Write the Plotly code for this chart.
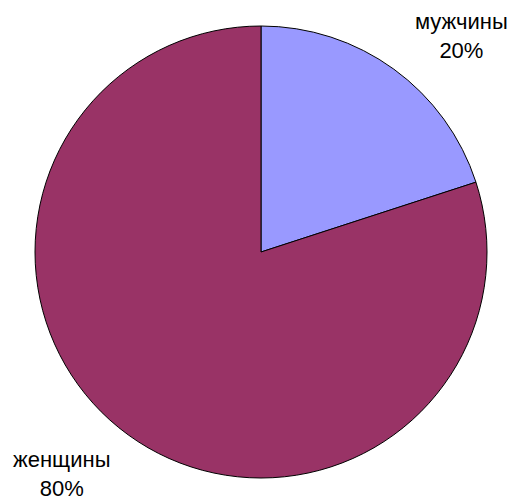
import plotly.graph_objects as go

labels = ["мужчины", "женщины"]
values = [20, 80]
colors = ["#9999FF", "#993366"]

W, H = 515, 501
# page body adds an 8px offset, so positions are shifted by it
cx, cy, r = 253, 244, 226

fig = go.Figure(go.Pie(
    labels=labels, values=values, sort=False, direction="clockwise", rotation=0,
    marker=dict(colors=colors, line=dict(color="black", width=1)),
    textinfo="none", hoverinfo="label+percent",
    domain=dict(x=[(cx - r) / W, (cx + r) / W], y=[1 - (cy + r) / H, 1 - (cy - r) / H]),
))

total = sum(values)
label_pos = [(453, 28), (53, 466)]
for lab, v, (x, y) in zip(labels, values, label_pos):
    fig.add_annotation(x=x / W, y=1 - y / H, xref="paper", yref="paper",
                       xanchor="center", yanchor="middle",
                       text=f"{lab}<br>{round(100 * v / total)}%", showarrow=False,
                       font=dict(family="Liberation Sans, Arial", size=22, color="black"),
                       align="center")

fig.update_layout(width=W, height=H, margin=dict(l=0, r=0, t=0, b=0),
                  showlegend=False, paper_bgcolor="white", plot_bgcolor="white")
fig.write_html("out.html")
